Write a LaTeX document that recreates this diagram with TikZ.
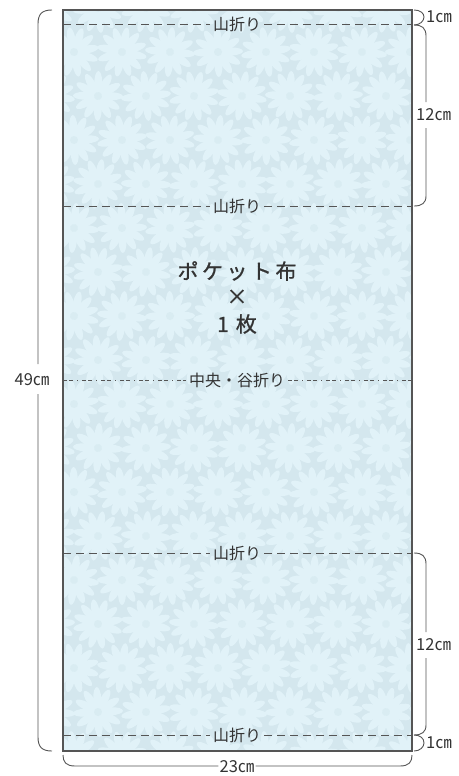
\documentclass[tikz,border=0pt]{standalone}
\usepackage{fontspec}
\setmainfont{Noto Sans CJK JP}
\newfontfamily\titlefont{Noto Sans CJK JP}[FakeBold=0.9]
\definecolor{basecol}{HTML}{D4E7EE}
\definecolor{petalcol}{HTML}{E1F2F8}
\definecolor{centercol}{HTML}{D9ECF2}
\definecolor{inkcol}{HTML}{333333}
\definecolor{dimcol}{HTML}{555555}
\tikzset{
  dim/.style={draw=dimcol, line width=0.9pt},
  dimlabel/.style={font=\fontsize{16.5}{17}\selectfont, text=inkcol, inner sep=1pt},
  foldlabel/.style={font=\fontsize{16}{17}\selectfont, text=inkcol, inner sep=3pt},
  mountain/.style={draw=dimcol, line width=0.9pt, dash pattern=on 8pt off 5pt},
  valley/.style={draw=dimcol, line width=0.9pt, dash pattern=on 4pt off 2pt on 4pt off 4pt on 1pt off 4pt},
  titletext/.style={font=\titlefont\fontsize{21}{21}\selectfont, text=inkcol, inner sep=0pt},
  petal/.style={fill=petalcol},
  daisy/.pic={
    \foreach \a in {0,30,...,330} \fill[petal, rotate=\a] (13,0) ellipse (12 and 4);
    \fill[centercol] (0,0) circle (4);
  }
}
\begin{document}
\begin{tikzpicture}[x=1pt,y=-1pt]
\useasboundingbox (0,0) rectangle (458,776);
% paper
\coordinate (TL) at (63,10);
\coordinate (BR) at (412,751);
\fill[basecol] (TL) rectangle (BR);
\begin{scope}
  \clip (TL) rectangle (BR);
  \foreach \i in {0,...,8} {
    \foreach \j in {0,...,17} {
      \pgfmathsetmacro\xx{50+\i*48+mod(\j,2)*24}
      \pgfmathsetmacro\yy{8+\j*44}
      \pgfmathsetmacro\rr{mod(\i*7+\j*11,30)}
      \pic[rotate=\rr] at (\xx,\yy) {daisy};
    }
  }
\end{scope}
\draw[draw=dimcol, line width=1.1pt] (TL) rectangle (BR);

% fold lines
\foreach \n/\y/\t/\s in {f1/24/山折り/mountain, f2/206/山折り/mountain, f4/553/山折り/mountain, f5/735/山折り/mountain, f3/380/中央・谷折り/valley} {
  \node[foldlabel] (\n) at (237,\y) {\t};
  \coordinate (\n L) at (63,\y);
  \coordinate (\n R) at (412,\y);
  \draw[\s] (\n L) -- (\n.west);
  \draw[\s] (\n.east) -- (\n R);
}

% title
\node[titletext] (t1) at (237,271) {ポ\hspace{3.5pt}ケ\hspace{3.5pt}ッ\hspace{3.5pt}ト\hspace{3.5pt}布};
\node[titletext] (t2) at (237,297) {×};
\node[titletext] (t3) at (237,324) {1\hspace{7pt}枚};

% left 49 cm brace
\node[dimlabel] (l49) at (32,380) {49㎝};
\coordinate (lTop) at (52,10);
\coordinate (lBot) at (52,751);
\draw[dim] (lTop) .. controls (42,10) and (38,14) .. (38,24) -- (38,364);
\draw[dim] (38,394) -- (38,737) .. controls (38,747) and (42,751) .. (lBot);

% right top braces
\coordinate (r0) at (414,10);
\coordinate (r1) at (414,25);
\coordinate (r2) at (414,206);
\node[dimlabel, anchor=west] (l1a) at (425,17) {1㎝};
\draw[dim] (r0) .. controls (420,10) and (424,13) .. (424,17) .. controls (424,21) and (420,25) .. (r1);
\node[dimlabel, anchor=west] (l12a) at (415,115) {12㎝};
\draw[dim] (r1) .. controls (422,25) and (426,28) .. (426,36) -- (426,102);
\draw[dim] (426,128) -- (426,196) .. controls (426,203) and (422,206) .. (r2);

% right bottom braces
\coordinate (r3) at (414,553);
\coordinate (r4) at (414,735);
\coordinate (r5) at (414,751);
\node[dimlabel, anchor=west] (l12b) at (415,645) {12㎝};
\draw[dim] (r3) .. controls (422,553) and (426,556) .. (426,564) -- (426,632);
\draw[dim] (426,658) -- (426,725) .. controls (426,732) and (422,735) .. (r4);
\node[dimlabel, anchor=west] (l1b) at (425,743) {1㎝};
\draw[dim] (r4) .. controls (420,735) and (424,738) .. (424,743) .. controls (424,747) and (420,751) .. (r5);

% bottom 23 cm brace
\node[dimlabel] (l23) at (237,767) {23㎝};
\coordinate (bL) at (63,755);
\coordinate (bR) at (412,755);
\draw[dim] (bL) .. controls (63,762) and (66,766) .. (75,766) -- (l23.west |- 0,766);
\draw[dim] (l23.east |- 0,766) -- (400,766) .. controls (409,766) and (412,762) .. (bR);
\end{tikzpicture}
\end{document}
